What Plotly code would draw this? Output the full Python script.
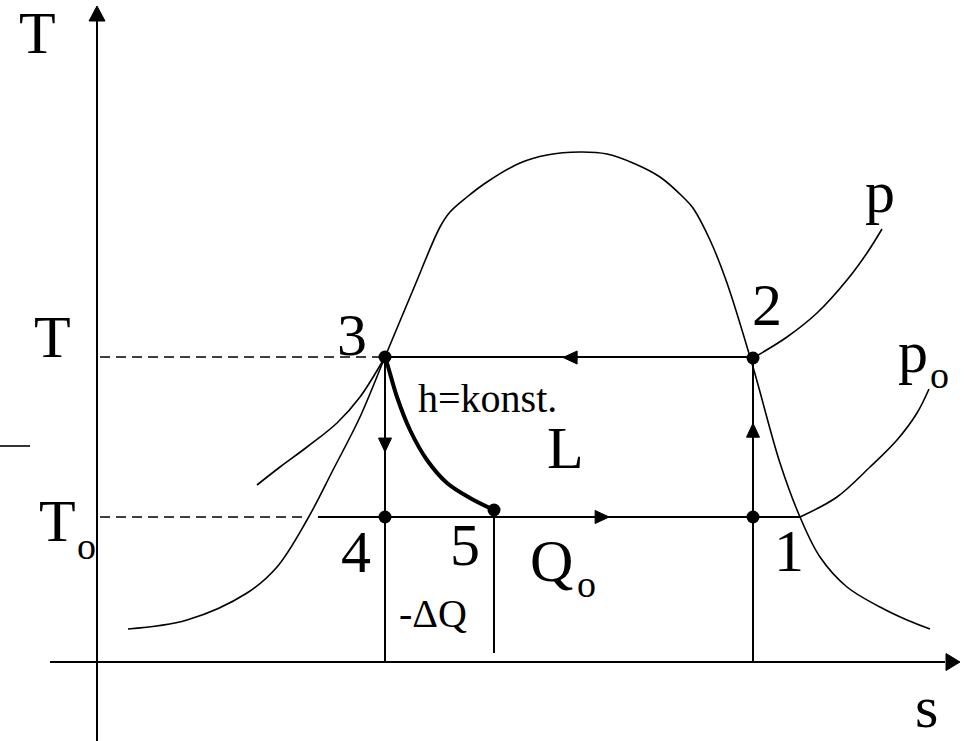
import plotly.graph_objects as go

# T-s diagram of a refrigeration cycle (schematic); s right, T up, origin at axis crossing
dome_s = [31, 90, 150, 180, 210, 236, 263, 288, 316, 343, 353, 370, 390, 423, 450, 483,
          510, 536, 563, 586, 596, 613, 630, 656, 683, 703, 723, 750, 783, 810, 833]
dome_T = [33, 42, 69, 95, 142, 192, 245, 305, 372, 435, 450, 465, 480, 499, 507, 510,
          508, 499, 485, 465, 454, 422, 379, 295, 199, 145, 105, 75, 55, 42, 33]

# isobar p, liquid side (from point 3) and superheated side (from point 2)
p_liq_s = [288, 263, 240, 210, 183, 160]
p_liq_T = [305, 265, 239, 215, 195, 177]
p_vap_s = [656, 690, 720, 750, 770, 785]
p_vap_T = [304, 325, 349, 382, 409, 433]

# isobar p_o, superheated side
po_s = [703, 740, 773, 800, 820, 832]
po_T = [145, 165, 195, 222, 249, 273]

# throttling h = konst. from 3 to 5
h_s = [288, 290, 300, 313, 330, 350, 373, 397]
h_T = [305, 299, 265, 232, 202, 179, 164, 152]

# cycle state points
pt_names = ["1", "2", "3", "4", "5"]
pt_s = [656, 656, 288, 288, 397]
pt_T = [145, 304, 305, 145, 152]

T_high = 305
T_low = 145
s_min, s_max = -97, 868
T_min, T_max = -79, 662

BLACK = "black"
SERIF = "Liberation Serif"


def line(xs, ys, width=1.6, dash=None, shape="linear"):
    return go.Scatter(x=xs, y=ys, mode="lines", hoverinfo="skip",
                      line=dict(color=BLACK, width=width, dash=dash, shape=shape, smoothing=1.0))


def head(tip, frm, length=14, half=6.5):
    # filled triangle pointing from 'frm' towards 'tip'
    dx, dy = tip[0] - frm[0], tip[1] - frm[1]
    n = (dx * dx + dy * dy) ** 0.5
    ux, uy = dx / n, dy / n
    bx, by = tip[0] - ux * length, tip[1] - uy * length
    px, py = -uy * half, ux * half
    return go.Scatter(x=[tip[0], bx + px, bx - px, tip[0]], y=[tip[1], by + py, by - py, tip[1]],
                      mode="lines", fill="toself", fillcolor=BLACK, hoverinfo="skip",
                      line=dict(color=BLACK, width=1))


def along(a, b, f):
    return (a[0] + (b[0] - a[0]) * f, a[1] + (b[1] - a[1]) * f)


fig = go.Figure()

# axes with arrows
fig.add_trace(line([0, 0], [T_min, T_max - 20], width=2))
fig.add_trace(head((0, T_max - 6), (0, 0), length=15, half=8))
fig.add_trace(line([-47, s_max - 20], [0, 0], width=2))
fig.add_trace(head((s_max - 5, 0), (0, 0), length=14, half=8.5))
fig.add_trace(line([-97, -67], [216, 216], width=1.6))

# saturation dome and isobars
fig.add_trace(line(dome_s, dome_T, shape="spline"))
fig.add_trace(line(p_liq_s, p_liq_T, shape="spline"))
fig.add_trace(line(p_vap_s, p_vap_T, shape="spline"))
fig.add_trace(line(po_s, po_T, shape="spline"))

# dashed temperature levels
fig.add_trace(line([3, pt_s[2]], [T_high, T_high], width=1.4, dash="10px,6px"))
fig.add_trace(line([3, 212], [T_low, T_low], width=1.4, dash="10px,6px"))

# cycle lines
p1, p2, p3, p4, p5 = [(pt_s[i], pt_T[i]) for i in range(5)]
fig.add_trace(line([p3[0], p2[0]], [T_high, T_high], width=2))
fig.add_trace(line([221, po_s[0]], [T_low, T_low], width=2))
fig.add_trace(line([p3[0], p3[0]], [T_high, 0], width=2))
fig.add_trace(line([p1[0], p1[0]], [p2[1], 0], width=2))
fig.add_trace(line([p5[0], p5[0]], [p5[1], 9], width=2))
fig.add_trace(line(h_s, h_T, width=4, shape="spline"))

fig.add_trace(head(along(p2, p3, 0.516), p2))
fig.add_trace(head(along(p4, p1, 0.609), p4))
fig.add_trace(head(along(p3, p4, 0.594), p3))
fig.add_trace(head(along(p1, p2, 0.59), p1))

fig.add_trace(go.Scatter(x=pt_s, y=pt_T, mode="markers", hoverinfo="skip",
                         marker=dict(color=BLACK, size=13)))

labels = [
    ("T", -60, 629, 60), ("T", -45, 325, 60), ("T", -40, 141, 60), ("o", -11, 116, 38),
    ("s", 829, -45, 60), ("p", 783, 470, 60), ("p", 816, 310, 60), ("o", 842, 287, 38),
    ("2", 670, 357, 60), ("3", 255, 327, 60), ("4", 259, 110, 60), ("5", 368, 117, 60),
    ("1", 692, 111, 60), ("L", 468, 214, 60), ("Q", 454, 101, 60), ("o", 489, 78, 38),
    ("h=konst.", 390, 264, 40), ("-ΔQ", 336, 49, 40),
]
for txt, sx, ty, size in labels:
    fig.add_annotation(x=sx, y=ty, text=txt, showarrow=False, xanchor="center", yanchor="middle",
                       font=dict(family=SERIF, size=size, color=BLACK))

fig.update_xaxes(range=[s_min, s_max], visible=False)
fig.update_yaxes(range=[T_min, T_max], visible=False)
fig.update_layout(width=965, height=741, margin=dict(l=0, r=0, t=0, b=0),
                  showlegend=False, plot_bgcolor="white", paper_bgcolor="white")

fig.write_html("out.html", config={"displayModeBar": False},
               post_script="document.body.style.margin='0';")
